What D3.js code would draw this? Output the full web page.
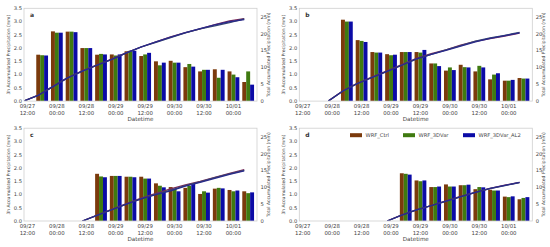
<!DOCTYPE html>
<html>
<head>
<meta charset="utf-8">
<script src="https://cdn.jsdelivr.net/npm/d3@7"></script>
<style>
  html, body { margin: 0; padding: 0; background: #fff; }
  svg { display: block; font-family: "DejaVu Sans", sans-serif; }
</style>
</head>
<body>
<div id="chart"></div>
<script>
// hours after 09/27 12:00
var tickHours = [0, 12, 24, 36, 48, 60, 72, 84];
var tickLabels = [["09/27", "12:00"], ["09/28", "00:00"], ["09/28", "12:00"], ["09/29", "00:00"],
                  ["09/29", "12:00"], ["09/30", "00:00"], ["09/30", "12:00"], ["10/01", "00:00"]];
var seriesNames = ["WRF_Ctrl", "WRF_3DVar", "WRF_3DVar_AL2"];
var seriesColors = ["#7b3a0c", "#3f7a10", "#0b0ba6"];
var lineColors = ["#7a2a5a", "#3a4a70", "#2a2a8a"];
var leftTicks = [0, 0.5, 1, 1.5, 2, 2.5, 3, 3.5];
var rightTicks = [0, 5, 10, 15, 20, 25];

// panel a: 09/27 18:00 .. 10/01 06:00 every 6 h
var hoursA = [6, 12, 18, 24, 30, 36, 42, 48, 54, 60, 66, 72, 78, 84, 90];
var ctrlA  = [1.75, 2.63, 2.62, 2.00, 1.75, 1.76, 1.88, 1.70, 1.50, 1.52, 1.28, 1.12, 1.20, 1.12, 0.72];
var varA   = [1.73, 2.58, 2.62, 2.00, 1.78, 1.72, 1.90, 1.76, 1.35, 1.45, 1.40, 1.18, 0.88, 1.00, 1.12];
var al2A   = [1.72, 2.58, 2.60, 2.00, 1.76, 1.76, 1.90, 1.82, 1.45, 1.45, 1.30, 1.18, 1.18, 0.90, 0.62];

// panel b: 09/28 06:00 ..
var hoursB = [18, 24, 30, 36, 42, 48, 54, 60, 66, 72, 78, 84, 90];
var ctrlB  = [3.07, 2.30, 1.85, 1.77, 1.85, 1.85, 1.42, 1.15, 1.37, 1.12, 0.82, 0.77, 0.87];
var varB   = [3.00, 2.27, 1.83, 1.73, 1.85, 1.83, 1.42, 1.27, 1.28, 1.33, 1.00, 0.77, 0.85];
var al2B   = [3.00, 2.23, 1.83, 1.75, 1.85, 1.93, 1.32, 1.17, 1.27, 1.27, 1.05, 0.80, 0.85];

// panel c: 09/28 18:00 ..
var hoursC = [30, 36, 42, 48, 54, 60, 66, 72, 78, 84, 90];
var ctrlC  = [1.78, 1.70, 1.67, 1.67, 1.42, 1.28, 1.25, 1.02, 1.22, 1.17, 1.12];
var varC   = [1.68, 1.70, 1.67, 1.60, 1.33, 1.22, 1.32, 1.12, 1.25, 1.12, 1.05];
var al2C   = [1.65, 1.70, 1.65, 1.60, 1.27, 1.12, 1.40, 1.07, 1.23, 1.15, 1.08];

// panel d: 09/29 06:00 ..
var hoursD = [42, 48, 54, 60, 66, 72, 78, 84, 90];
var ctrlD  = [1.80, 1.53, 1.28, 1.38, 1.35, 1.20, 1.18, 0.92, 0.82];
var varD   = [1.78, 1.50, 1.28, 1.30, 1.35, 1.28, 1.15, 0.90, 0.87];
var al2D   = [1.75, 1.53, 1.30, 1.30, 1.37, 1.27, 1.15, 0.93, 0.90];

var panels = [
  { tag: "a", hours: hoursA, series: [ctrlA, varA, al2A], left: 24,    top: 8.3 },
  { tag: "b", hours: hoursB, series: [ctrlB, varB, al2B], left: 299.3, top: 8.3, },
  { tag: "c", hours: hoursC, series: [ctrlC, varC, al2C], left: 24,    top: 128.2 },
  { tag: "d", hours: hoursD, series: [ctrlD, varD, al2D], left: 299.3, top: 128.2, legend: true }
];

var W = 550, H = 247, PW = 233, PH = 92.8;
var barW = 1.6;          // hours
var tickColor = "#444", spineColor = "#cfcfcf";

var svg = d3.select("#chart").append("svg").attr("width", W).attr("height", H);
var defs = svg.append("defs");

panels.forEach(function (p, pi) {
  var g = svg.append("g").attr("transform", "translate(" + p.left + "," + p.top + ")");
  var x = d3.scaleLinear().domain([-1.4, 93.6]).range([0, PW]);
  var y = d3.scaleLinear().domain([0, 3.5]).range([PH, 0]);
  var y2 = d3.scaleLinear().domain([0, 27.6]).range([PH, 0]);

  defs.append("clipPath").attr("id", "clip" + pi)
    .append("rect").attr("width", PW).attr("height", PH);

  // bars
  var plot = g.append("g").attr("clip-path", "url(#clip" + pi + ")");
  p.series.forEach(function (vals, k) {
    plot.append("g").selectAll("rect").data(vals).join("rect")
      .attr("x", function (d, i) { return x(p.hours[i] + (k - 1) * barW - barW / 2); })
      .attr("width", x(barW) - x(0))
      .attr("y", function (d) { return y(d); })
      .attr("height", function (d) { return PH - y(d); })
      .attr("fill", seriesColors[k]);
  });

  // cumulative totals, drawn a bar-width earlier than the group centre
  var line = d3.line().x(function (d) { return x(d[0]); }).y(function (d) { return y2(d[1]); });
  p.series.forEach(function (vals, k) {
    var cum = Array.from(d3.cumsum(vals));
    var pts = [[p.hours[0] - 6 - barW, 0]].concat(cum.map(function (c, i) {
      return [p.hours[i] - barW, c];
    }));
    plot.append("path").datum(pts).attr("d", line)
      .attr("fill", "none").attr("stroke", lineColors[k])
      .attr("stroke-width", 1.3).attr("stroke-linejoin", "round");
  });

  // frame
  g.append("rect").attr("width", PW).attr("height", PH)
    .attr("fill", "none").attr("stroke", spineColor).attr("stroke-width", 0.8);

  // left ticks
  g.append("g").selectAll("text").data(leftTicks).join("text")
    .attr("x", -2).attr("y", function (d) { return y(d) + 1.8; })
    .attr("text-anchor", "end").attr("font-size", 5.2).attr("fill", tickColor)
    .text(function (d) { return d3.format(".1f")(d); });
  // right ticks
  g.append("g").selectAll("text").data(rightTicks).join("text")
    .attr("x", PW + 3.5).attr("y", function (d) { return y2(d) + 1.8; })
    .attr("font-size", 5.2).attr("fill", tickColor)
    .text(function (d) { return d; });

  // x ticks
  var xt = g.append("g").selectAll("text").data(tickHours).join("text")
    .attr("text-anchor", "middle").attr("font-size", 5.4).attr("fill", tickColor)
    .attr("transform", function (d) { return "translate(" + x(d) + "," + (PH + 6.6) + ")"; });
  xt.append("tspan").attr("x", 0).attr("y", 0).text(function (d, i) { return tickLabels[i][0]; });
  xt.append("tspan").attr("x", 0).attr("y", 7.7).text(function (d, i) { return tickLabels[i][1]; });

  g.append("text").attr("x", PW / 2).attr("y", PH + 20.3)
    .attr("text-anchor", "middle").attr("font-size", 5.6).attr("fill", tickColor)
    .text("Datetime");

  g.append("text").attr("transform", "translate(-14.5," + (PH / 2) + ") rotate(-90)")
    .attr("text-anchor", "middle").attr("font-size", 4.5).attr("fill", tickColor)
    .text("3h Accumulated Precipitation (mm)");
  g.append("text").attr("transform", "translate(" + (PW + 12.5) + "," + (PH / 2) + ") rotate(-90)")
    .attr("text-anchor", "middle").attr("font-size", 4.5).attr("fill", tickColor)
    .text("Total Accumulated Precipitation (mm)");

  g.append("text").attr("x", 6).attr("y", 8.5)
    .attr("font-size", 6).attr("font-weight", "bold").attr("fill", "#333")
    .text(p.tag);

  if (p.legend) {
    var legX = [50.7, 103.7, 163.7];
    var lg = g.append("g").selectAll("g").data(seriesNames).join("g")
      .attr("transform", function (d, i) { return "translate(" + legX[i] + ",7)"; });
    lg.append("rect").attr("x", 0).attr("y", -2).attr("width", 12).attr("height", 4)
      .attr("fill", function (d, i) { return seriesColors[i]; });
    lg.append("text").attr("x", 15.5).attr("y", 1.9)
      .attr("font-size", 5.2).attr("fill", tickColor)
      .text(function (d) { return d; });
  }
});
</script>
</body>
</html>
